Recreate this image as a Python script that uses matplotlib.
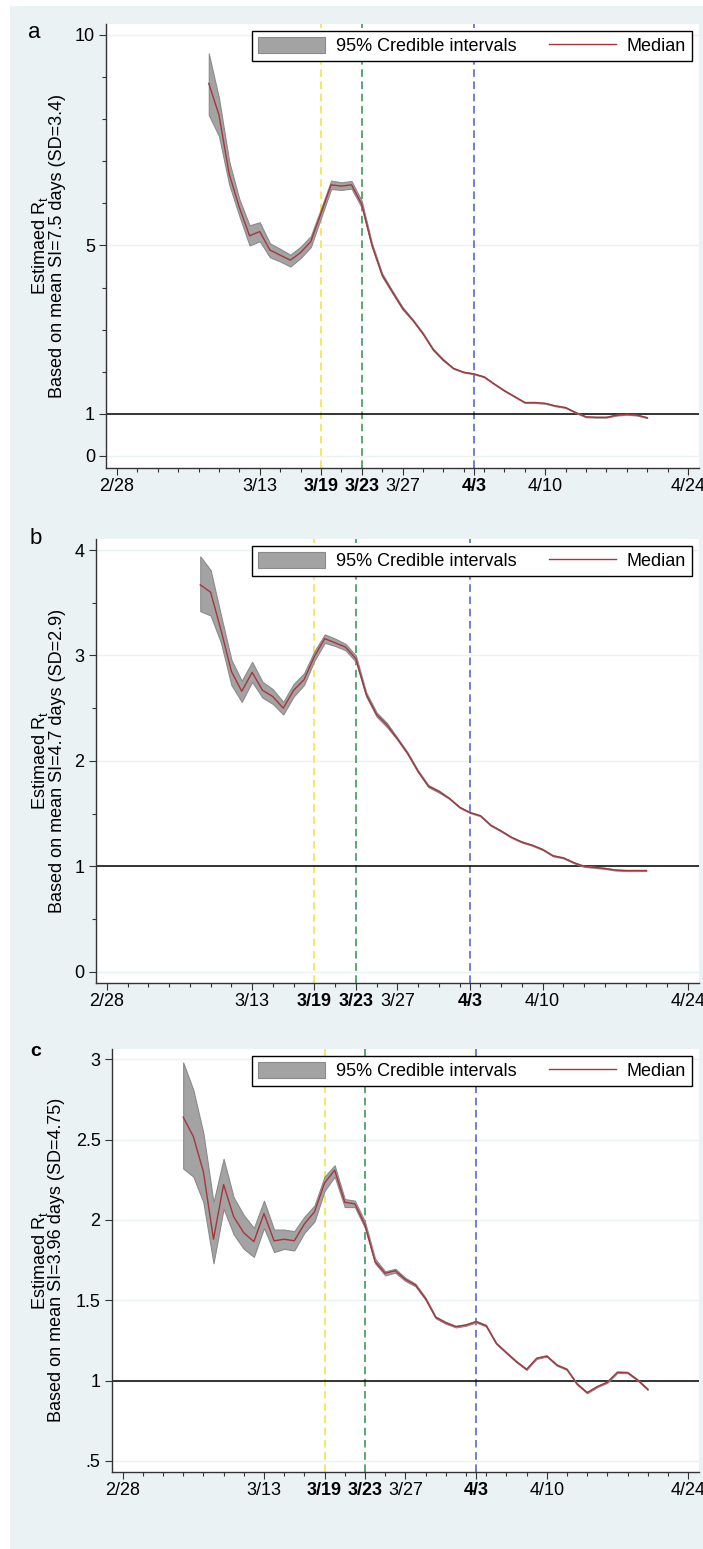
import matplotlib
matplotlib.use("Agg")
import matplotlib.pyplot as plt
import matplotlib.dates as mdates
from matplotlib.patches import Patch, Rectangle
from matplotlib.lines import Line2D
import pandas as pd

plt.rcParams['font.family'] = ['Liberation Sans', 'DejaVu Sans']

# --- data ---
dates_ab = pd.date_range('2020-03-08', '2020-04-20')
dates_c = pd.date_range('2020-03-05', '2020-04-20')

med_a = [8.85, 8.10, 6.70, 5.90, 5.23, 5.33, 4.89, 4.77, 4.65, 4.83, 5.09, 5.76,
         6.44, 6.41, 6.44, 5.98, 5.01, 4.30, 3.90, 3.51, 3.23, 2.91, 2.53, 2.28,
         2.08, 1.99, 1.95, 1.88, 1.71, 1.55, 1.41, 1.27, 1.27, 1.25, 1.19, 1.15,
         1.03, 0.93, 0.92, 0.92, 0.97, 0.99, 0.97, 0.91]
lo_a = [8.10, 7.60, 6.45, 5.70, 5.00, 5.10, 4.72, 4.62, 4.50, 4.70, 4.96, 5.65,
        6.34, 6.32, 6.35, 5.90, 4.96, 4.26, 3.87, 3.48, 3.21, 2.89, 2.51, 2.26,
        2.07, 1.98, 1.94, 1.87, 1.70, 1.54, 1.40, 1.26, 1.26, 1.24, 1.18, 1.14,
        1.02, 0.92, 0.91, 0.91, 0.96, 0.98, 0.96, 0.90]
hi_a = [9.56, 8.50, 7.00, 6.10, 5.48, 5.55, 5.05, 4.92, 4.78, 4.97, 5.22, 5.87,
        6.54, 6.50, 6.53, 6.06, 5.06, 4.34, 3.93, 3.54, 3.25, 2.93, 2.55, 2.30,
        2.09, 2.00, 1.96, 1.89, 1.72, 1.56, 1.42, 1.28, 1.28, 1.26, 1.20, 1.16,
        1.04, 0.94, 0.93, 0.93, 0.98, 1.00, 0.98, 0.92]

med_b = [3.67, 3.60, 3.24, 2.85, 2.66, 2.84, 2.67, 2.61, 2.50, 2.67, 2.77, 2.99,
         3.16, 3.12, 3.08, 2.97, 2.63, 2.44, 2.34, 2.21, 2.07, 1.90, 1.76, 1.71,
         1.645, 1.56, 1.51, 1.48, 1.39, 1.335, 1.275, 1.23, 1.20, 1.16, 1.10, 1.08,
         1.035, 1.00, 0.99, 0.98, 0.965, 0.96, 0.96, 0.96]
lo_b = [3.42, 3.38, 3.12, 2.72, 2.56, 2.75, 2.60, 2.54, 2.44, 2.61, 2.72, 2.95,
        3.12, 3.09, 3.05, 2.94, 2.61, 2.42, 2.32, 2.20, 2.06, 1.89, 1.75, 1.70,
        1.64, 1.555, 1.505, 1.475, 1.385, 1.33, 1.27, 1.225, 1.195, 1.155, 1.095, 1.075,
        1.03, 0.995, 0.985, 0.975, 0.96, 0.955, 0.955, 0.955]
hi_b = [3.94, 3.81, 3.38, 2.96, 2.76, 2.94, 2.75, 2.68, 2.56, 2.73, 2.83, 3.04,
        3.20, 3.16, 3.11, 3.00, 2.65, 2.46, 2.36, 2.22, 2.08, 1.91, 1.77, 1.72,
        1.65, 1.565, 1.515, 1.485, 1.395, 1.34, 1.28, 1.235, 1.205, 1.165, 1.105, 1.085,
        1.04, 1.005, 0.995, 0.985, 0.97, 0.965, 0.965, 0.965]

med_c = [2.64, 2.52, 2.30, 1.88, 2.22, 2.02, 1.92, 1.865, 2.04, 1.87, 1.88, 1.87,
         1.975, 2.05, 2.23, 2.31, 2.11, 2.10, 1.97, 1.74, 1.668, 1.684, 1.63, 1.595,
         1.51, 1.394, 1.36, 1.336, 1.346, 1.367, 1.342, 1.232, 1.174, 1.118, 1.07, 1.139,
         1.153, 1.097, 1.07, 0.979, 0.925, 0.963, 0.99, 1.052, 1.05, 1.004, 0.946]
lo_c = [2.32, 2.27, 2.11, 1.73, 2.07, 1.91, 1.82, 1.77, 1.95, 1.80, 1.82, 1.81,
        1.92, 1.99, 2.18, 2.27, 2.08, 2.08, 1.95, 1.73, 1.655, 1.672, 1.62, 1.587,
        1.503, 1.388, 1.354, 1.331, 1.341, 1.362, 1.337, 1.228, 1.17, 1.114, 1.066, 1.135,
        1.149, 1.093, 1.066, 0.975, 0.921, 0.959, 0.986, 1.048, 1.046, 1.0, 0.942]
hi_c = [2.98, 2.81, 2.54, 2.11, 2.38, 2.14, 2.03, 1.95, 2.12, 1.94, 1.94, 1.93,
        2.02, 2.09, 2.27, 2.34, 2.13, 2.12, 1.99, 1.76, 1.68, 1.696, 1.64, 1.603,
        1.517, 1.40, 1.366, 1.341, 1.351, 1.372, 1.347, 1.236, 1.178, 1.122, 1.074, 1.143,
        1.157, 1.101, 1.074, 0.983, 0.929, 0.967, 0.994, 1.056, 1.054, 1.008, 0.95]

tick_dates = ['2020-02-28', '2020-03-13', '2020-03-19', '2020-03-23',
              '2020-03-27', '2020-04-03', '2020-04-10', '2020-04-24']
tick_labels = ['2/28', '3/13', '3/19', '3/23', '3/27', '4/3', '4/10', '4/24']
bold_labels = ['3/19', '3/23', '4/3']
event_dates = ['2020-03-19', '2020-03-23', '2020-04-03']
event_colors = ['#f3e23c', '#2f8f4e', '#4a5ec2']

W, H = 703, 1549
BG = '#eaf2f3'
FS = 13


def px_box(l, t, r, b):
    return [l / W, 1 - b / H, (r - l) / W, (b - t) / H]


def draw_panel(ax, dates, med, lo, hi, yticks, ylabels, yminor, ylim, letter, si_text, letter_xy, bold=False):
    ax.set_facecolor('white')
    for d, c in zip(event_dates, event_colors):
        ax.axvline(pd.Timestamp(d), color=c, lw=1.1, dashes=(5, 3), zorder=2)
    ax.axhline(1, color='black', lw=1.1, zorder=2)
    ax.fill_between(dates, lo, hi, facecolor='#a3a3a3', edgecolor='#8a8a8a', lw=0.8, zorder=3)
    ax.plot(dates, med, color='#a8353c', lw=1.0, zorder=4)

    x0 = mdates.date2num(pd.Timestamp('2020-02-28'))
    x1 = mdates.date2num(pd.Timestamp('2020-04-24'))
    ax.set_xlim(x0 - 1.08, x1 + 1.08)
    ax.set_xticks([mdates.date2num(pd.Timestamp(t)) for t in tick_dates])
    ax.set_xticklabels(tick_labels)
    ax.set_xticks([x0 + 2 * k for k in range(29)], minor=True)
    for lab in ax.get_xticklabels():
        if lab.get_text() in bold_labels:
            lab.set_fontweight('bold')

    ax.set_ylim(*ylim)
    ax.set_yticks(yticks)
    ax.set_yticklabels(ylabels)
    ax.set_yticks(yminor, minor=True)
    ax.grid(axis='y', which='major', color=BG, lw=1.0)
    ax.set_axisbelow(True)

    for s in ['top', 'right']:
        ax.spines[s].set_visible(False)
    for s in ['left', 'bottom']:
        ax.spines[s].set_color('#333333')
        ax.spines[s].set_linewidth(1.0)
    ax.tick_params(which='major', length=5, width=0.8, color='#333333', labelsize=FS)
    ax.tick_params(which='minor', length=3, width=0.8, color='#333333')
    ax.tick_params(axis='x', which='major', pad=2.5)
    ax.tick_params(axis='y', which='major', pad=3)

    handles = [Patch(facecolor='#a3a3a3', edgecolor='#8a8a8a', lw=0.8),
               Line2D([], [], color='#a8353c', lw=1.0)]
    leg = ax.legend(handles, ['95% Credible intervals', 'Median'], ncol=2,
                    loc='upper right', bbox_to_anchor=(1, 1), borderaxespad=0.4,
                    fontsize=FS, frameon=True, fancybox=False, framealpha=1,
                    edgecolor='black', handlelength=3.7, handleheight=1.0,
                    handletextpad=0.6, columnspacing=1.8, borderpad=0.33)
    leg.get_frame().set_linewidth(1.0)
    leg.set_zorder(5)

    # y axis titles and panel letter
    bb = ax.get_position()
    yc = bb.y0 + bb.height / 2
    fig.text(40 / W, yc, 'Estimaed R$_\\mathregular{t}$', rotation=90, ha='center', va='center', fontsize=FS)
    fig.text(57 / W, yc, si_text, rotation=90, ha='center', va='center', fontsize=FS)
    fig.text(letter_xy[0] / W, 1 - letter_xy[1] / H, letter, ha='center', va='center',
             fontsize=14 if bold else 16, fontweight='bold' if bold else 'normal')


fig = plt.figure(figsize=(W / 100, H / 100), dpi=100, facecolor='white')
fig.patches.append(Rectangle((10 / W, 0), 1 - 10 / W, 1 - 6 / H, transform=fig.transFigure,
                             facecolor=BG, edgecolor='none', zorder=-1))

ax_a = fig.add_axes(px_box(106, 24, 699, 468))
draw_panel(ax_a, dates_ab, med_a, lo_a, hi_a, [0, 1, 5, 10], ['0', '1', '5', '10'],
           list(range(0, 11)), (-0.285, 10.26), 'a', 'Based on mean SI=7.5 days (SD=3.4)', (34, 33))

ax_b = fig.add_axes(px_box(95.7, 539, 699, 983))
draw_panel(ax_b, dates_ab, med_b, lo_b, hi_b, [0, 1, 2, 3, 4], ['0', '1', '2', '3', '4'],
           [0.5 * k for k in range(9)], (-0.107, 4.105), 'b', 'Based on mean SI=4.7 days (SD=2.9)', (36, 539))

ax_c = fig.add_axes(px_box(111.7, 1049, 699, 1471.7))
draw_panel(ax_c, dates_c, med_c, lo_c, hi_c, [0.5, 1, 1.5, 2, 2.5, 3], ['.5', '1', '1.5', '2', '2.5', '3'],
           [], (0.433, 3.064), 'c', 'Based on mean SI=3.96 days (SD=4.75)', (35.5, 1052), bold=True)

fig.savefig('out.png', dpi=100, facecolor=fig.get_facecolor())
